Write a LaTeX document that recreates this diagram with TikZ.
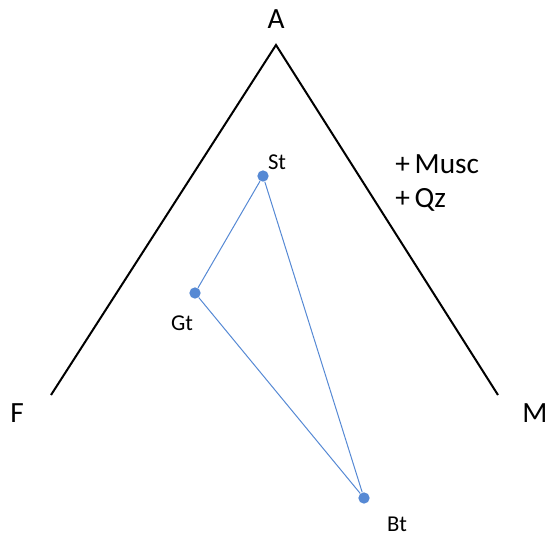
\documentclass[tikz,border=0pt]{standalone}
\usepackage{fontspec}
\setmainfont{Carlito}
\usetikzlibrary{positioning}
\definecolor{pointblue}{HTML}{5689D4}

\begin{document}
\begin{tikzpicture}[
  x=0.75pt, y=-0.75pt,
  corner/.style={font=\fontsize{22}{26}\selectfont, inner sep=0pt},
  dot/.style={circle, fill=pointblue, minimum size=8.5pt, inner sep=0pt},
  lbl/.style={font=\fontsize{17}{20}\selectfont, inner sep=0pt},
  axis/.style={line width=1.5pt, black},
  tie/.style={line width=0.75pt, pointblue}
]
  \useasboundingbox (0,0) rectangle (553,540);
  % triangle outline
  \coordinate (apex) at (276,45);
  \coordinate (left) at (51,395);
  \coordinate (right) at (498,395);
  \draw[axis] (left) -- (apex) -- (right);

  \node[corner] (A) at (276,19) {A};
  \node[corner] (F) at (17,413) {F};
  \node[corner] (M) at (535,413) {M};
  \node[corner, anchor=west] (musc) at (395,164) {+\,Musc};
  \node[corner, anchor=west] (qz) at (395,200) {+\,Qz};

  % sample points
  \node[dot] (st) at (263,176) {};
  \node[dot] (gt) at (195,293) {};
  \node[dot] (bt) at (364,498) {};
  \draw[tie] (st) -- (gt) -- (bt) -- (st);

  \node[lbl] (stl) at (277,162) {St};
  \node[lbl] (gtl) at (182,323) {Gt};
  \node[lbl] (btl) at (397,524) {Bt};
\end{tikzpicture}
\end{document}
